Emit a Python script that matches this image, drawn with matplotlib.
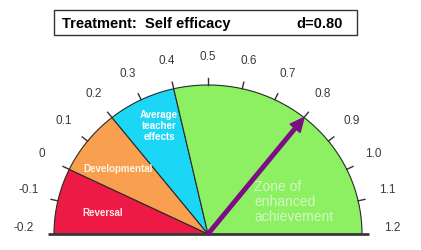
import numpy as np
import matplotlib
matplotlib.use("Agg")
import matplotlib.pyplot as plt
from matplotlib.patches import Polygon, Rectangle

# ---- data ----
treatment = "Self efficacy"
effect_d = 0.80
scale_min, scale_max = -0.2, 1.2
zone_bounds = [-0.2, 0.0, 0.2, 0.4, 1.2]
zone_names = ["Reversal", "Developmental", "Average\nteacher\neffects",
              "Zone of\nenhanced\nachievement"]
zone_colors = ["#EC1A44", "#F8A050", "#1CD6F6", "#8CF062"]
tick_values = [-0.2, -0.1, 0.0, 0.1, 0.2, 0.3, 0.4, 0.5, 0.6, 0.7,
               0.8, 0.9, 1.0, 1.1, 1.2]
tick_labels = ["-0.2", "-0.1", "0", "0.1", "0.2", "0.3", "0.4", "0.5",
               "0.6", "0.7", "0.8", "0.9", "1.0", "1.1", "1.2"]

# ---- layout (pixel units) ----
W, H = 421, 251
cx, cy = 208, 235
rx, ry = 154, 149

fig = plt.figure(figsize=(W / 100, H / 100), dpi=100)
ax = fig.add_axes([0, 0, 1, 1])
ax.set_xlim(0, W)
ax.set_ylim(H, 0)
ax.axis("off")


def ang(v):
    return np.pi * (1 - (v - scale_min) / (scale_max - scale_min))


def pt(v, sx=1.0, sy=1.0):
    a = ang(v)
    return cx + rx * sx * np.cos(a), cy - ry * sy * np.sin(a)


# wedges
for i in range(len(zone_names)):
    v0, v1 = zone_bounds[i], zone_bounds[i + 1]
    vs = np.linspace(v0, v1, 100)
    pts = [(cx, cy)] + [pt(v) for v in vs]
    ax.add_patch(Polygon(pts, closed=True, facecolor=zone_colors[i],
                         edgecolor="#2a2a2a", lw=0.8, zorder=2))

# ticks
for v in tick_values[1:-1]:
    x0, y0 = pt(v)
    x1, y1 = pt(v, 1.045, 1.045)
    ax.plot([x0, x1], [y0, y1], color="#333333", lw=1.0, zorder=3)

# tick labels
for v, lab in zip(tick_values, tick_labels):
    a = ang(v)
    x = cx + 184 * np.cos(a)
    y = cy - 178 * np.sin(a) - 7 * (1 - np.sin(a))
    ax.text(x, y, lab, ha="center", va="center", fontsize=8.5,
            color="#3a3a3a", family="Liberation Sans", zorder=4)

# baseline
ax.plot([48, 369], [cy, cy], color="#3a3a3a", lw=2, zorder=5,
        solid_capstyle="butt")

# zone labels
lab_kw = dict(family="Liberation Sans", zorder=6)
ax.text(159, 126, zone_names[2], ha="center", va="center", fontsize=7,
        fontweight="bold", color="white", linespacing=1.15, **lab_kw)
ax.text(83, 169, zone_names[1], ha="left", va="center", fontsize=7,
        fontweight="bold", color="#FFF4E8", **lab_kw)
ax.text(82, 213, zone_names[0], ha="left", va="center", fontsize=7,
        fontweight="bold", color="#FFE8EC", **lab_kw)
ax.text(254, 202, zone_names[3], ha="left", va="center", fontsize=10,
        color="#D4F8C4", linespacing=1.1, **lab_kw)

# arrow to effect size
tx, ty = pt(effect_d)
ax.arrow(cx, cy, tx - cx, ty - cy, width=3.5, head_width=13,
         head_length=14, length_includes_head=True, color="#7E0C86",
         zorder=7)

# title box
ax.add_patch(Rectangle((54, 11), 303, 25, facecolor="white",
                       edgecolor="#333333", lw=1.0, zorder=8))
ax.text(62, 24, f"Treatment:  {treatment}", ha="left", va="center",
        fontsize=10.5, fontweight="bold", color="black",
        family="Liberation Sans", zorder=9)
ax.text(343, 24, f"d={effect_d:.2f}", ha="right", va="center",
        fontsize=10.5, fontweight="bold", color="black",
        family="Liberation Sans", zorder=9)

fig.savefig("out.png", dpi=100, facecolor="white")
